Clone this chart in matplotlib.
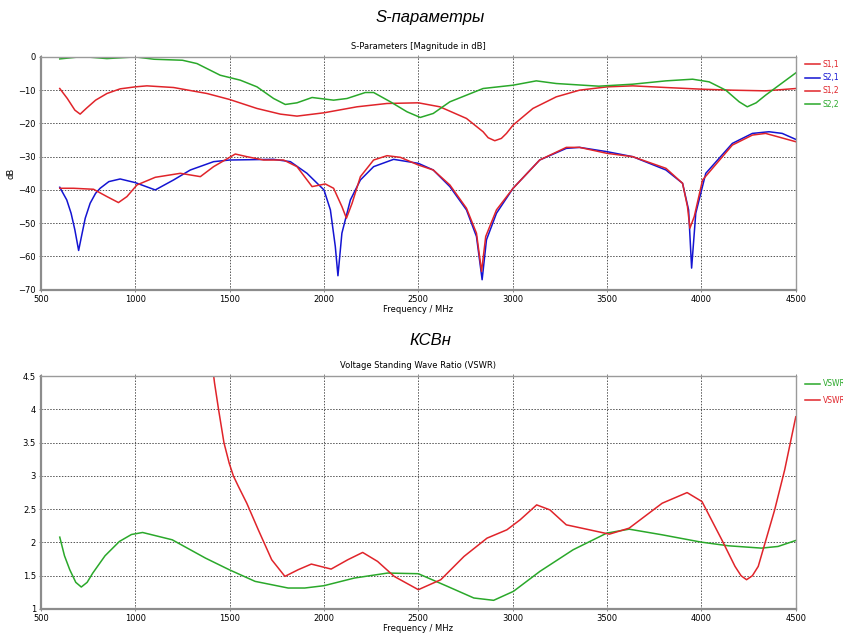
import numpy as np
import matplotlib
matplotlib.use('Agg')
import matplotlib.pyplot as plt
from matplotlib.ticker import FormatStrFormatter, MultipleLocator

# ---------------------------
# Datos (frecuencia en MHz)
# ---------------------------
s11_f = [600, 640, 680, 708, 740, 790, 850, 920, 1000, 1062, 1203, 1380, 1500, 1645,
         1769, 1857, 2000, 2175, 2334, 2500, 2614, 2755, 2843, 2870, 2905, 2940,
         2967, 3002, 3107, 3231, 3354, 3500, 3636, 3812, 4000, 4164, 4340, 4500]
s11_db = [-9.5, -12.5, -16.0, -17.2, -15.5, -13.0, -11.0, -9.6, -9.0, -8.7, -9.2,
          -11.0, -12.8, -15.5, -17.2, -17.8, -16.8, -15.0, -14.0, -13.8, -15.0, -18.5,
          -22.5, -24.3, -25.2, -24.5, -23.0, -20.5, -15.5, -12.0, -10.0, -9.0, -8.7,
          -9.2, -9.7, -10.0, -10.2, -9.5]

s22_f = [600, 720, 850, 1000, 1100, 1250, 1327, 1450, 1557, 1645, 1733, 1795, 1857,
         1937, 2051, 2122, 2219, 2263, 2352, 2440, 2510, 2579, 2667, 2843, 3002,
         3125, 3231, 3456, 3636, 3812, 3953, 4041, 4129, 4200, 4243, 4290, 4340, 4500]
s22_db = [-0.6, 0.1, -0.5, 0.0, -0.7, -1.0, -2.0, -5.5, -7.0, -9.0, -12.5, -14.3,
          -13.8, -12.2, -13.0, -12.5, -10.7, -10.7, -13.5, -16.5, -18.2, -17.0,
          -13.5, -9.5, -8.5, -7.2, -8.0, -8.8, -8.2, -7.2, -6.7, -7.5, -10.0, -13.5,
          -15.0, -13.8, -11.5, -4.8]

s21_f = [600, 637, 660, 680, 700, 715, 735, 761, 790, 814, 860, 920, 1000, 1106, 1203,
         1292, 1415, 1500, 1733, 1822, 1910, 2000, 2034, 2060, 2074, 2095, 2140, 2193,
         2263, 2369, 2500, 2579, 2667, 2755, 2808, 2838, 2861, 2914, 3002, 3143, 3284,
         3354, 3500, 3636, 3812, 3900, 3932, 3948, 3970, 4023, 4164, 4270, 4358, 4428,
         4500]
s21_db = [-39.2, -43.0, -47.0, -52.0, -58.2, -54.0, -48.5, -44.0, -41.0, -39.5, -37.5,
          -36.7, -37.8, -40.0, -37.0, -34.0, -31.5, -31.0, -30.8, -31.5, -35.0, -40.0,
          -46.0, -57.0, -65.8, -53.0, -43.0, -37.0, -33.0, -30.8, -32.0, -34.0, -39.0,
          -46.0, -54.0, -67.0, -55.0, -47.0, -39.5, -31.0, -27.5, -27.2, -28.5, -30.0,
          -34.0, -38.0, -46.0, -63.5, -47.0, -35.0, -26.0, -23.0, -22.5, -23.0, -24.8]

s12_f = [600, 673, 779, 850, 911, 956, 1009, 1106, 1239, 1345, 1415, 1530, 1592, 1680,
         1786, 1857, 1937, 2007, 2051, 2095, 2119, 2149, 2193, 2263, 2334, 2405, 2500,
         2579, 2667, 2755, 2808, 2835, 2857, 2914, 3002, 3143, 3284, 3354, 3500, 3636,
         3812, 3900, 3926, 3939, 3962, 4006, 4164, 4270, 4340, 4500]
s12_db = [-39.5, -39.5, -39.8, -42.0, -43.8, -42.0, -38.5, -36.2, -35.0, -36.0, -33.0,
          -29.2, -30.0, -31.0, -31.0, -33.0, -39.0, -38.2, -39.5, -45.0, -48.5, -44.0,
          -36.0, -31.0, -29.7, -30.2, -32.5, -34.0, -38.5, -45.5, -53.0, -64.5, -54.0,
          -46.0, -39.5, -31.0, -27.2, -27.2, -29.0, -30.0, -33.5, -38.0, -45.0, -51.5,
          -48.0, -37.0, -26.5, -23.5, -23.0, -25.5]

vswr1_f = [600, 625, 653, 685, 714, 745, 775, 840, 916, 980, 1039, 1196, 1372, 1498,
           1635, 1810, 1898, 2000, 2161, 2337, 2500, 2654, 2794, 2899, 3004, 3144,
           3320, 3498, 3617, 3792, 3999, 4143, 4318, 4406, 4500]
vswr1 = [2.08, 1.8, 1.59, 1.4, 1.33, 1.4, 1.54, 1.8, 2.015, 2.12, 2.15, 2.04, 1.765,
         1.59, 1.415, 1.315, 1.315, 1.35, 1.465, 1.54, 1.53, 1.34, 1.165, 1.13, 1.265,
         1.565, 1.89, 2.14, 2.2, 2.115, 2.005, 1.95, 1.915, 1.94, 2.03]

vswr2_f = [1405, 1420, 1442, 1470, 1498, 1520, 1547, 1591, 1652, 1723, 1793, 1863,
           1933, 2038, 2126, 2205, 2284, 2372, 2500, 2619, 2742, 2864, 2969, 3039,
           3127, 3197, 3284, 3407, 3512, 3617, 3792, 3924, 4003, 4108, 4178, 4210,
           4239, 4270, 4301, 4388, 4441, 4500]
vswr2 = [4.75, 4.4, 3.99, 3.5, 3.19, 3.0, 2.84, 2.59, 2.19, 1.74, 1.49, 1.59, 1.675,
         1.6, 1.74, 1.85, 1.715, 1.49, 1.29, 1.44, 1.79, 2.065, 2.19, 2.34, 2.565, 2.49,
         2.265, 2.19, 2.125, 2.215, 2.59, 2.75, 2.615, 2.04, 1.64, 1.5, 1.44, 1.5, 1.64,
         2.49, 3.09, 3.89]

# ---------------------------
# Estilo
# ---------------------------
rojo = '#e0242a'
azul = '#1414d2'
verde = '#2aa82a'
fs = 6

fig = plt.figure(figsize=(8.43, 6.36), dpi=100)
ax1 = fig.add_axes([0.0485, 0.5445, 0.8955, 0.366])
ax2 = fig.add_axes([0.0485, 0.0425, 0.8955, 0.366])


def estilo(ax):
    ax.set_xlim(500, 4500)
    ax.xaxis.set_major_locator(MultipleLocator(500))
    ax.grid(True, linestyle=(0, (1.5, 1.5)), color='#555555', linewidth=0.7)
    ax.tick_params(labelsize=fs, length=3, width=0.7, color='#888888', pad=2,
                   top=True, right=False, direction='inout')
    for lado in ['left', 'bottom']:
        ax.spines[lado].set_color('#8c8c8c')
        ax.spines[lado].set_linewidth(1.6)
    for lado in ['top', 'right']:
        ax.spines[lado].set_color('#9a9a9a')
        ax.spines[lado].set_linewidth(1.0)
    ax.set_xlabel('Frequency / MHz', fontsize=fs, labelpad=1)


# ---------------------------
# S-parámetros
# ---------------------------
ax1.plot(s11_f, s11_db, color=rojo, lw=1.1, label='S1,1')
ax1.plot(s21_f, s21_db, color=azul, lw=1.1, label='S2,1')
ax1.plot(s12_f, s12_db, color=rojo, lw=1.1, label='S1,2')
ax1.plot(s22_f, s22_db, color=verde, lw=1.1, label='S2,2')
ax1.set_ylim(-70, 0)
ax1.yaxis.set_major_locator(MultipleLocator(10))
estilo(ax1)
ax1.set_ylabel('dB', fontsize=fs, labelpad=2)
ax1.set_title('S-Parameters [Magnitude in dB]', fontsize=fs, pad=6)
ax1.legend(loc='upper left', bbox_to_anchor=(1.008, 1.0), frameon=False, fontsize=5.5,
           handlelength=2.0, handletextpad=0.3, labelspacing=0.55, labelcolor='linecolor',
           borderaxespad=0.2, borderpad=0.2)

# ---------------------------
# VSWR
# ---------------------------
ax2.plot(vswr1_f, vswr1, color=verde, lw=1.1, label='VSWR1')
ax2.plot(vswr2_f, vswr2, color=rojo, lw=1.1, label='VSWR2')
ax2.set_ylim(1, 4.5)
ax2.yaxis.set_major_locator(MultipleLocator(0.5))
ax2.yaxis.set_major_formatter(FormatStrFormatter('%g'))
estilo(ax2)
ax2.set_title('Voltage Standing Wave Ratio (VSWR)', fontsize=fs, pad=6)
ax2.legend(loc='upper left', bbox_to_anchor=(1.008, 1.0), frameon=False, fontsize=5.5,
           handlelength=2.0, handletextpad=0.3, labelspacing=0.95, labelcolor='linecolor',
           borderaxespad=0.2, borderpad=0.2)

# Títulos principales
fig.text(0.51, 0.972, 'S-параметры', ha='center', va='center', fontsize=12,
         style='italic', family='Liberation Sans')
fig.text(0.51, 0.465, 'КСВн', ha='center', va='center', fontsize=12,
         style='italic', family='Liberation Sans')

fig.savefig('out.png', dpi=100)
